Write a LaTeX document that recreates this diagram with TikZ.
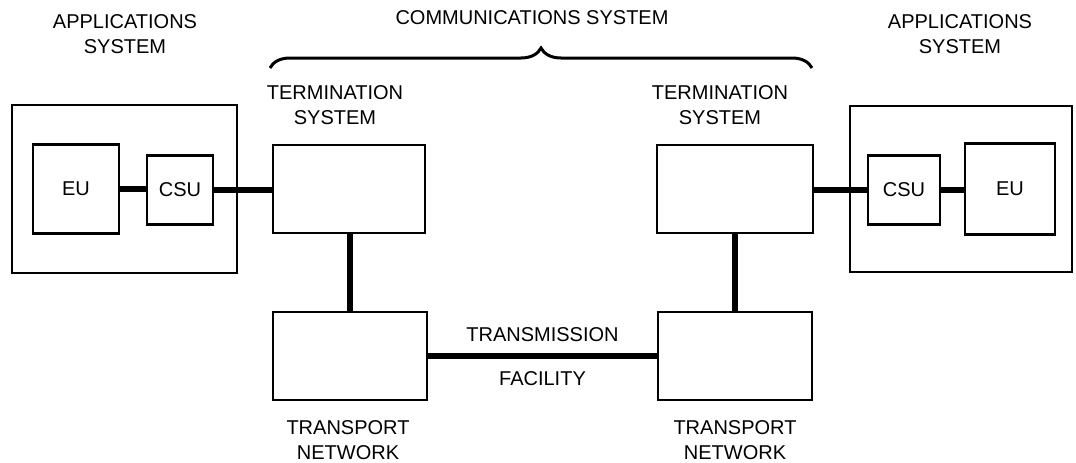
\documentclass[tikz,border=0pt]{standalone}
\usepackage{fontspec}
\setmainfont{Liberation Sans}
\usetikzlibrary{decorations.pathreplacing}
\tikzset{
  unit/.style={draw=black,line width=2.8pt,inner sep=0pt},
  caption/.style={align=center,inner sep=0pt,font=\fontsize{20}{25}\selectfont},
  link/.style={draw=black,line width=5.5pt},
  biglink/.style={draw=black,line width=6.5pt},
  commbrace/.style={decorate,decoration={brace,amplitude=20pt},line width=3pt}
}

\begin{document}
\begin{tikzpicture}[x=1pt,y=-1pt]
        \useasboundingbox (0,0) rectangle (1076,463);
        % applications systems
        \node[unit,minimum width=225pt,minimum height=168pt] (appL) at (124.5,189) {};
        \node[unit,minimum width=222pt,minimum height=166pt] (appR) at (961,189) {};
        \node[unit,caption,minimum width=86pt,minimum height=89pt] (euL) at (76,189) {EU};
        \node[unit,caption,minimum width=66pt,minimum height=69pt] (csuL) at (180,190) {CSU};
        \node[unit,caption,minimum width=72pt,minimum height=69pt] (csuR) at (904,190) {CSU};
        \node[unit,caption,minimum width=90pt,minimum height=91pt] (euR) at (1010,189) {EU};
        % termination and transport
        \node[unit,minimum width=152pt,minimum height=88pt] (termL) at (349,189) {};
        \node[unit,minimum width=156pt,minimum height=88pt] (termR) at (735,189) {};
        \node[unit,minimum width=154pt,minimum height=88pt] (transL) at (350,356) {};
        \node[unit,minimum width=154pt,minimum height=88pt] (transR) at (735,356) {};
        % labels
        \node[caption] (appLlabel) at (125,34) {APPLICATIONS\\SYSTEM};
        \node[caption] (appRlabel) at (960,34) {APPLICATIONS\\SYSTEM};
        \node[caption] (termLlabel) at (335,105) {TERMINATION\\SYSTEM};
        \node[caption] (termRlabel) at (720,105) {TERMINATION\\SYSTEM};
        \node[caption] (transLlabel) at (348,440) {TRANSPORT\\NETWORK};
        \node[caption] (transRlabel) at (735,440) {TRANSPORT\\NETWORK};
        \node[caption] (commlabel) at (532,18) {COMMUNICATIONS SYSTEM};
        \coordinate (braceL) at (270,68);
        \coordinate (braceR) at (812,68);
        \draw[commbrace] (braceL) -- (braceR);
        % connections
        \draw[link] (euL) -- (csuL.west |- euL);
        \draw[biglink] (csuL) -- (termL.west |- csuL);
        \draw[biglink] (termR.east |- csuR) -- (csuR);
        \draw[link] (csuR) -- (euR.west |- csuR);
        \draw[link] (termL.south -| transL) -- (transL);
        \draw[link] (termR) -- (transR);
        \draw[link] (transL) -- node[caption,above=12pt] (txlabel) {TRANSMISSION}
          node[caption,below=13pt] (faclabel) {FACILITY} (transR);
\end{tikzpicture}
\end{document}
